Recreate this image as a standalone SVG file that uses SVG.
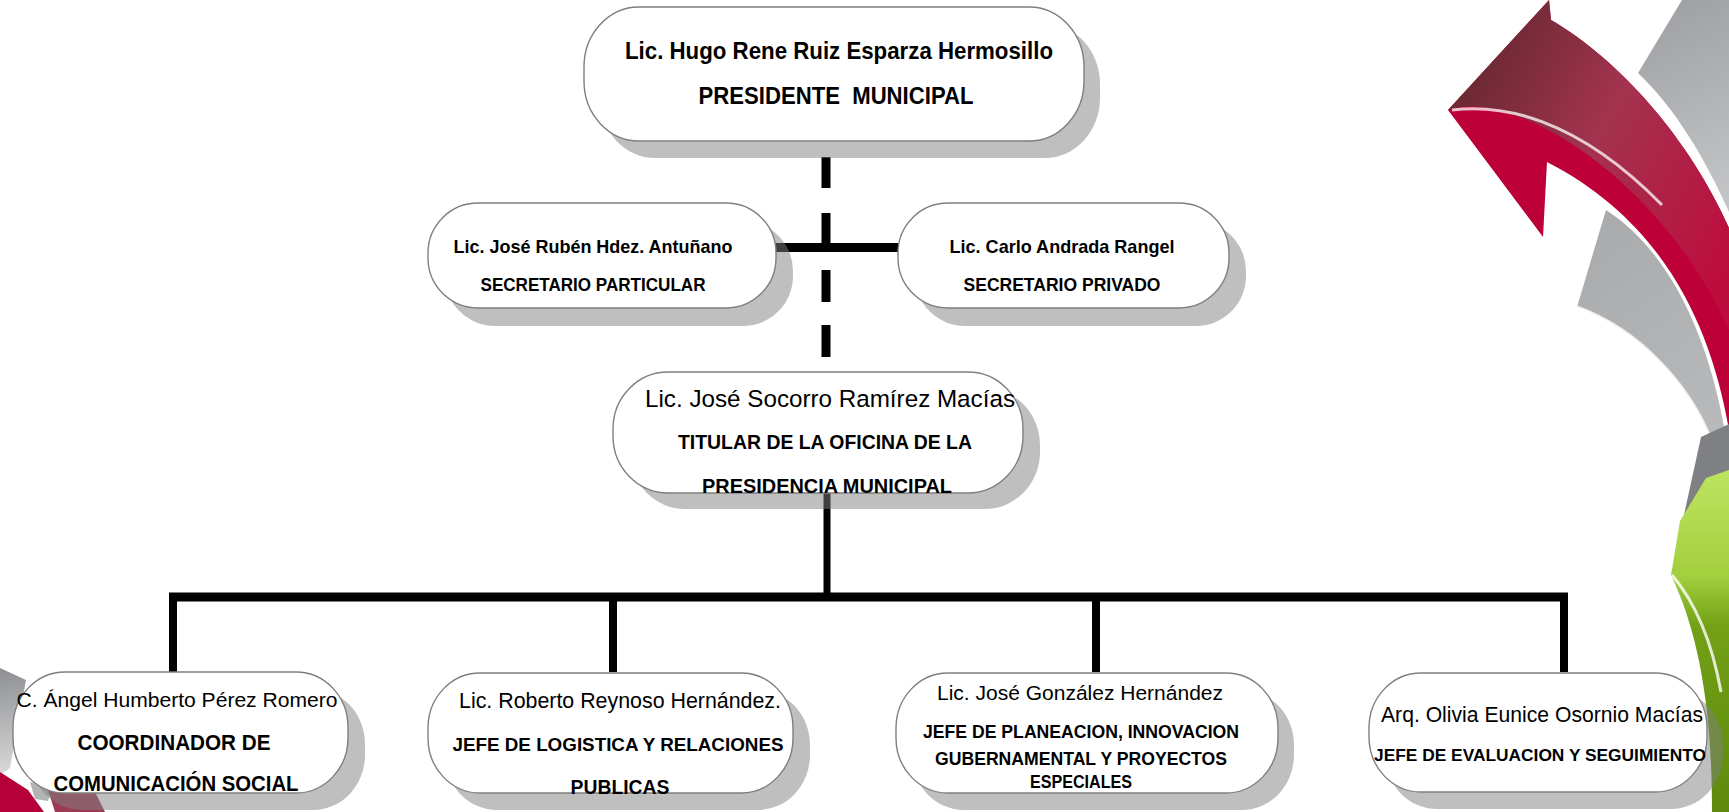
<svg xmlns="http://www.w3.org/2000/svg" width="1729" height="812" viewBox="0 0 1729 812">
<style>
.box{fill:#fff;stroke:#7f7f7f;stroke-width:1.4}
.sh{fill:#7f7f7f;opacity:.5}
.t{font-family:"Liberation Sans",Arial,sans-serif;fill:#000;text-anchor:middle}
.b{font-weight:bold}
.conn line{stroke:#000}
</style>
<defs>
<linearGradient id="redUp" x1="1448" y1="110" x2="1729" y2="260" gradientUnits="userSpaceOnUse">
<stop offset="0" stop-color="#6a2932"/><stop offset="0.45" stop-color="#a3334f"/><stop offset="1" stop-color="#bd0d3f"/>
</linearGradient>
<linearGradient id="grey1" x1="1640" y1="0" x2="1729" y2="200" gradientUnits="userSpaceOnUse">
<stop offset="0" stop-color="#9c9ea1"/><stop offset="1" stop-color="#c4c5c7"/>
</linearGradient>
<linearGradient id="grey2" x1="1577" y1="210" x2="1729" y2="440" gradientUnits="userSpaceOnUse">
<stop offset="0" stop-color="#a7a9ab"/><stop offset="1" stop-color="#b9babc"/>
</linearGradient>
<linearGradient id="green" x1="0" y1="475" x2="0" y2="812" gradientUnits="userSpaceOnUse">
<stop offset="0" stop-color="#bde35f"/><stop offset="0.3" stop-color="#a2cf3e"/><stop offset="0.45" stop-color="#72a016"/><stop offset="1" stop-color="#5d8a0c"/>
</linearGradient>
<linearGradient id="greyL" x1="0" y1="668" x2="24" y2="770" gradientUnits="userSpaceOnUse">
<stop offset="0" stop-color="#8c8e91"/><stop offset="1" stop-color="#d8d9da"/>
</linearGradient>
</defs>

<g id="decor">
<path d="M1682 0 L1729 0 L1729 212 C1705 158 1675 108 1638 73 Z" fill="url(#grey1)"/>
<path d="M1606 210 C1662 246 1706 322 1725 432 L1712 442 C1690 385 1640 330 1577 307 Z" fill="url(#grey2)"/>
<path d="M1577 307 C1640 330 1690 385 1712 442" fill="none" stroke="#fff" stroke-width="3" opacity="0.8"/>
<path d="M1448 110 L1549 0 L1551 20 C1620 60 1690 140 1729 228 L1729 430 C1710 320 1660 220 1547 162 L1543 237 Z" fill="#bd0038"/>
<path d="M1448 110 L1549 0 L1551 20 C1620 60 1690 140 1729 228 L1729 330 C1690 240 1600 140 1500 110 C1475 105 1460 106 1448 110 Z" fill="url(#redUp)"/>
<path d="M1452 110 C1500 104 1575 116 1662 205" fill="none" stroke="#fff" stroke-width="3" opacity="0.75"/>
<path d="M1701 437 L1729 424 L1729 522 L1684 515 Z" fill="#7e8083"/>
<path d="M1706 478 L1729 470 L1729 812 L1712 812 C1712 720 1702 640 1671 575 L1680 521 Z" fill="url(#green)"/>
<path d="M1672 575 C1695 602 1712 642 1721 692" fill="none" stroke="#fff" stroke-width="3" opacity="0.8"/>
<path d="M0 668 L26 680 L10 768 L0 775 Z" fill="url(#greyL)"/>
<path d="M30 782 L52 786 L48 801 L35 799 Z" fill="#b3b4b6"/>
<path d="M0 772 L28 790 L44 812 L0 812 Z" fill="#b5003a"/>
<path d="M48 790 L95 792 L105 812 L55 812 Z" fill="#9c3a55"/>
</g>

<g id="connectors" class="conn">
<line x1="826" y1="157" x2="826" y2="188" stroke-width="9"/>
<line x1="826" y1="213" x2="826" y2="250" stroke-width="9"/>
<line x1="826" y1="270" x2="826" y2="302" stroke-width="9"/>
<line x1="826" y1="325" x2="826" y2="357" stroke-width="9"/>
<line x1="776" y1="247.5" x2="898" y2="247.5" stroke-width="9"/>
<line x1="827" y1="493" x2="827" y2="597" stroke-width="7"/>
<line x1="169" y1="597" x2="1568" y2="597" stroke-width="9"/>
<line x1="173" y1="597" x2="173" y2="672" stroke-width="8"/>
<line x1="613" y1="597" x2="613" y2="672" stroke-width="8"/>
<line x1="1096" y1="597" x2="1096" y2="672" stroke-width="8"/>
<line x1="1564" y1="597" x2="1564" y2="672" stroke-width="8"/>
</g>

<g id="presidente">
<rect class="sh" x="600" y="24" width="500" height="134" rx="55" ry="60"/>
<rect class="box" x="584" y="7" width="500" height="134" rx="55" ry="60"/>
<text class="t b" x="839" y="59" font-size="24" textLength="428" lengthAdjust="spacingAndGlyphs">Lic. Hugo Rene Ruiz Esparza Hermosillo</text>
<text class="t b" x="836" y="104" font-size="24" textLength="275" lengthAdjust="spacingAndGlyphs" xml:space="preserve">PRESIDENTE  MUNICIPAL</text>
</g>

<g id="sec-particular">
<rect class="sh" x="445" y="221" width="348" height="105" rx="50" ry="50"/>
<rect class="box" x="428" y="203" width="348" height="105" rx="50" ry="50"/>
<text class="t b" x="593" y="253" font-size="19" textLength="279" lengthAdjust="spacingAndGlyphs">Lic. José Rubén Hdez. Antuñano</text>
<text class="t b" x="593" y="291" font-size="18.5" textLength="225" lengthAdjust="spacingAndGlyphs">SECRETARIO PARTICULAR</text>
</g>

<g id="sec-privado">
<rect class="sh" x="915" y="221" width="331" height="105" rx="50" ry="50"/>
<rect class="box" x="898" y="203" width="331" height="105" rx="50" ry="50"/>
<text class="t b" x="1062" y="253" font-size="19" textLength="225" lengthAdjust="spacingAndGlyphs">Lic. Carlo Andrada Rangel</text>
<text class="t b" x="1062" y="291" font-size="18.5" textLength="197" lengthAdjust="spacingAndGlyphs">SECRETARIO PRIVADO</text>
</g>

<g id="titular">
<rect class="sh" x="630" y="388" width="410" height="121" rx="55" ry="57"/>
<rect class="box" x="613" y="372" width="410" height="121" rx="55" ry="57"/>
<text class="t" x="830" y="407" font-size="24.5" textLength="370" lengthAdjust="spacingAndGlyphs">Lic. José Socorro Ramírez Macías</text>
<text class="t b" x="825" y="449" font-size="21" textLength="294" lengthAdjust="spacingAndGlyphs">TITULAR DE LA OFICINA DE LA</text>
<text class="t b" x="827" y="493" font-size="21" textLength="250" lengthAdjust="spacingAndGlyphs">PRESIDENCIA MUNICIPAL</text>
</g>

<g id="comunicacion">
<rect class="sh" x="30" y="689" width="335" height="121" rx="52" ry="55"/>
<rect class="box" x="13" y="672" width="335" height="121" rx="52" ry="55"/>
<text class="t" x="177" y="707" font-size="21" textLength="321" lengthAdjust="spacingAndGlyphs">C. Ángel Humberto Pérez Romero</text>
<text class="t b" x="174" y="750" font-size="22" textLength="193" lengthAdjust="spacingAndGlyphs">COORDINADOR DE</text>
<text class="t b" x="176" y="791" font-size="22" textLength="245" lengthAdjust="spacingAndGlyphs">COMUNICACIÓN SOCIAL</text>
</g>

<g id="logistica">
<rect class="sh" x="445" y="690" width="365" height="120" rx="52" ry="55"/>
<rect class="box" x="428" y="673" width="365" height="120" rx="52" ry="55"/>
<text class="t" x="620" y="708" font-size="22" textLength="322" lengthAdjust="spacingAndGlyphs">Lic. Roberto Reynoso Hernández.</text>
<text class="t b" x="618" y="751" font-size="19" textLength="331" lengthAdjust="spacingAndGlyphs">JEFE DE LOGISTICA Y RELACIONES</text>
<text class="t b" x="620" y="794" font-size="21" textLength="99" lengthAdjust="spacingAndGlyphs">PUBLICAS</text>
</g>

<g id="planeacion">
<rect class="sh" x="912" y="690" width="382" height="120" rx="52" ry="55"/>
<rect class="box" x="896" y="673" width="382" height="120" rx="52" ry="55"/>
<text class="t" x="1080" y="700" font-size="20.5" textLength="286" lengthAdjust="spacingAndGlyphs">Lic. José González Hernández</text>
<text class="t b" x="1081" y="738" font-size="19" textLength="316" lengthAdjust="spacingAndGlyphs">JEFE DE PLANEACION, INNOVACION</text>
<text class="t b" x="1081" y="765" font-size="19" textLength="292" lengthAdjust="spacingAndGlyphs">GUBERNAMENTAL Y PROYECTOS</text>
<text class="t b" x="1081" y="788" font-size="19" textLength="102" lengthAdjust="spacingAndGlyphs">ESPECIALES</text>
</g>

<g id="evaluacion">
<rect class="sh" x="1385" y="690" width="338" height="119" rx="52" ry="55"/>
<rect class="box" x="1369" y="673" width="338" height="119" rx="52" ry="55"/>
<text class="t" x="1542" y="722" font-size="21.5" textLength="322" lengthAdjust="spacingAndGlyphs">Arq. Olivia Eunice Osornio Macías</text>
<text class="t b" x="1540" y="761" font-size="17.3" textLength="332" lengthAdjust="spacingAndGlyphs">JEFE DE EVALUACION Y SEGUIMIENTO</text>
</g>
</svg>
